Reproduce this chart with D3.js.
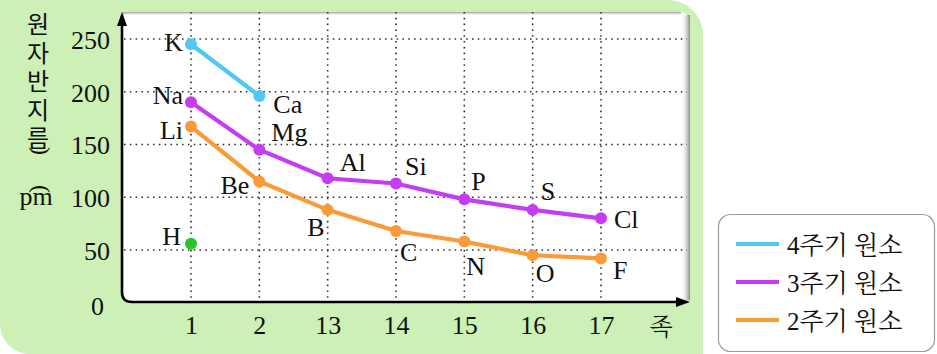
<!DOCTYPE html>
<html><head><meta charset="utf-8"><script src="https://cdn.jsdelivr.net/npm/d3@7"></script></head>
<body style="margin:0">
<script>
// --- data ---
const groups = ["1", "2", "13", "14", "15", "16", "17"];
const yTicks = [0, 50, 100, 150, 200, 250];

const period4Names = ["K", "Ca"];
const period4Values = [245, 196];
const period3Names = ["Na", "Mg", "Al", "Si", "P", "S", "Cl"];
const period3Values = [190, 145, 118, 113, 98, 88, 80];
const period2Names = ["Li", "Be", "B", "C", "N", "O", "F"];
const period2Values = [167, 115, 88, 68, 58, 45, 42];
const hydrogenNames = ["H"];
const hydrogenValues = [56];

const legendNums = ["4", "3", "2"];
const legendText = "주기 원소";

// label placement (dx = text anchor offset, dy = vertical centre offset)
const labelPos = {
  K: [-8, -2, "end"], Ca: [14, 8, "start"],
  Na: [-8, -7, "end"], Mg: [12, -18, "start"], Al: [12, -16, "start"], Si: [9, -18, "start"],
  P: [7, -18, "start"], S: [8, -19, "start"], Cl: [13, 1, "start"],
  Li: [-8, 3, "end"], Be: [-10, 4, "end"], B: [-3, 17, "end"], C: [4, 21, "start"],
  N: [2, 24, "start"], O: [3, 18, "start"], F: [12, 12, "start"],
  H: [-10, -8, "end"]
};

const colors = { p4: "#4ec8f4", p3: "#c53cf3", p2: "#fb9a38", h: "#26c426" };
const SERIF = '"Liberation Serif", "Noto Serif CJK KR", serif';
const KR_SERIF = '"Noto Serif CJK KR", serif';
const KR_SANS = '"Noto Sans CJK KR", sans-serif';

// set a font on a selection, winning over any injected stylesheet
const font = (sel, f, size) => sel
  .style("font-family", f, "important")
  .style("font-size", size + "px", "important")
  .attr("fill", "#111");

const W = 937, H = 354;
const plot = { left: 122, top: 12, right: 690, bottom: 302 };

const svg = d3.select("body").append("svg")
  .attr("width", W).attr("height", H)
  .style("display", "block");

const defs = svg.append("defs");
const gR = defs.append("linearGradient").attr("id", "shadeR")
  .attr("x1", 0).attr("x2", 1).attr("y1", 0).attr("y2", 0);
gR.append("stop").attr("offset", 0).attr("stop-color", "#fff").attr("stop-opacity", 0);
gR.append("stop").attr("offset", 1).attr("stop-color", "#8a8a8a").attr("stop-opacity", 1);
const gT = defs.append("linearGradient").attr("id", "shadeT")
  .attr("x1", 0).attr("x2", 0).attr("y1", 1).attr("y2", 0);
gT.append("stop").attr("offset", 0).attr("stop-color", "#fff").attr("stop-opacity", 0);
gT.append("stop").attr("offset", 1).attr("stop-color", "#9a9a9a").attr("stop-opacity", 1);

// green panel
const r = 35;
svg.append("path")
  .attr("d", `M0,0 H${703 - r} A${r},${r} 0 0 1 703,${r} V${H} H30 A30,30 0 0 1 0,${H - 30} Z`)
  .attr("fill", "#cdf0b7");

// white plot area with soft shadow
svg.append("rect")
  .attr("x", plot.left).attr("y", plot.top)
  .attr("width", plot.right - plot.left).attr("height", plot.bottom - plot.top)
  .attr("rx", 10).attr("fill", "#fff");
svg.append("rect")
  .attr("x", plot.right - 9).attr("y", plot.top + 3)
  .attr("width", 9).attr("height", plot.bottom - plot.top - 5)
  .attr("fill", "url(#shadeR)");
svg.append("rect")
  .attr("x", plot.left).attr("y", plot.top)
  .attr("width", plot.right - plot.left - 9).attr("height", 4)
  .attr("fill", "url(#shadeT)");

// scales
const x = d3.scalePoint().domain(groups).range([191, 601]);
const y = d3.scaleLinear().domain([0, 250]).range([302.7, 39]);

// grid
const grid = svg.append("g")
  .attr("stroke", "#333").attr("stroke-width", 1.6)
  .attr("stroke-dasharray", "1.6,4.2");
grid.selectAll(".hg").data(yTicks.filter(d => d > 0)).join("line")
  .attr("x1", plot.left + 2).attr("x2", plot.right - 3)
  .attr("y1", d => y(d)).attr("y2", d => y(d));
grid.selectAll(".vg").data(groups).join("line")
  .attr("x1", d => x(d)).attr("x2", d => x(d))
  .attr("y1", plot.top).attr("y2", plot.bottom);

// axes frame with arrows
svg.append("path")
  .attr("d", `M${plot.left},${plot.top + 10} V${plot.bottom - 10} Q${plot.left},${plot.bottom} ${plot.left + 10},${plot.bottom} H${plot.right - 8}`)
  .attr("fill", "none").attr("stroke", "#000").attr("stroke-width", 2.6);
svg.append("path")
  .attr("d", `M${plot.left},${plot.top} L${plot.left - 5},${plot.top + 14} L${plot.left + 5},${plot.top + 14} Z`)
  .attr("fill", "#000");
svg.append("path")
  .attr("d", `M${plot.right},${plot.bottom} L${plot.right - 14},${plot.bottom - 5} L${plot.right - 14},${plot.bottom + 5} Z`)
  .attr("fill", "#000");

// tick labels via axes
const yAxis = svg.append("g")
  .attr("transform", `translate(${plot.left - 10},0)`)
  .call(d3.axisLeft(y).tickValues(yTicks).tickSize(0).tickPadding(2));
yAxis.select(".domain").remove();
font(yAxis.selectAll("text"), SERIF, 26)
  .attr("dy", "0.36em")
  .attr("transform", d => d === 0 ? "translate(-6,2)" : null);

const xAxis = svg.append("g")
  .attr("transform", `translate(0,${plot.bottom})`)
  .call(d3.axisBottom(x).tickSize(0).tickPadding(14));
xAxis.select(".domain").remove();
font(xAxis.selectAll("text"), SERIF, 26);

font(svg.append("text"), KR_SERIF, 24)
  .attr("x", 661).attr("y", 335).attr("text-anchor", "middle").text("족");

// y axis title (vertical Korean)
const title = "원자반지름";
font(svg.append("g").selectAll("text").data(title.split("")).join("text"), KR_SANS, 24)
  .attr("x", 38).attr("y", (d, i) => 33 + i * 28.5)
  .attr("text-anchor", "middle")
  .text(d => d);
font(svg.append("text"), SERIF, 24)
  .attr("x", 38).attr("y", 158).attr("text-anchor", "middle")
  .attr("transform", "rotate(-90,38,151)").text("(");
font(svg.append("text"), SERIF, 26)
  .attr("x", 36).attr("y", 205).attr("text-anchor", "middle").text("pm");
font(svg.append("text"), SERIF, 24)
  .attr("x", 38).attr("y", 196).attr("text-anchor", "middle")
  .attr("transform", "rotate(-90,38,189)").text(")");

// series
const series = [
  { names: period4Names, values: period4Values, color: colors.p4 },
  { names: period3Names, values: period3Values, color: colors.p3 },
  { names: period2Names, values: period2Values, color: colors.p2 },
  { names: hydrogenNames, values: hydrogenValues, color: colors.h }
];

const line = d3.line().x(d => x(d.g)).y(d => y(d.v));

series.forEach(s => {
  const pts = s.values.map((v, i) => ({ g: groups[i], v, name: s.names[i] }));
  if (pts.length > 1) {
    svg.append("path").datum(pts)
      .attr("d", line).attr("fill", "none")
      .attr("stroke", s.color).attr("stroke-width", 4.2);
  }
  svg.append("g").selectAll("circle").data(pts).join("circle")
    .attr("cx", d => x(d.g)).attr("cy", d => y(d.v)).attr("r", 6)
    .attr("fill", s.color);
  font(svg.append("g").selectAll("text").data(pts).join("text"), SERIF, 26)
    .attr("x", d => x(d.g) + labelPos[d.name][0])
    .attr("y", d => y(d.v) + labelPos[d.name][1])
    .attr("dy", "0.35em")
    .attr("text-anchor", d => labelPos[d.name][2])
    .text(d => d.name);
});

// legend
const legend = svg.append("g");
legend.append("rect")
  .attr("x", 718.5).attr("y", 214.5).attr("width", 216).attr("height", 137)
  .attr("rx", 12).attr("fill", "#fff").attr("stroke", "#9a9a9a").attr("stroke-width", 1.2);
const legColors = [colors.p4, colors.p3, colors.p2];
legendNums.forEach((num, i) => {
  const ly = 244 + i * 38;
  legend.append("line")
    .attr("x1", 736).attr("x2", 779).attr("y1", ly).attr("y2", ly)
    .attr("stroke", legColors[i]).attr("stroke-width", 4);
  font(legend.append("text"), SERIF, 25)
    .attr("x", 787).attr("y", ly).attr("dy", "0.38em")
    .text(num + legendText);
});
</script>
</body>
</html>
